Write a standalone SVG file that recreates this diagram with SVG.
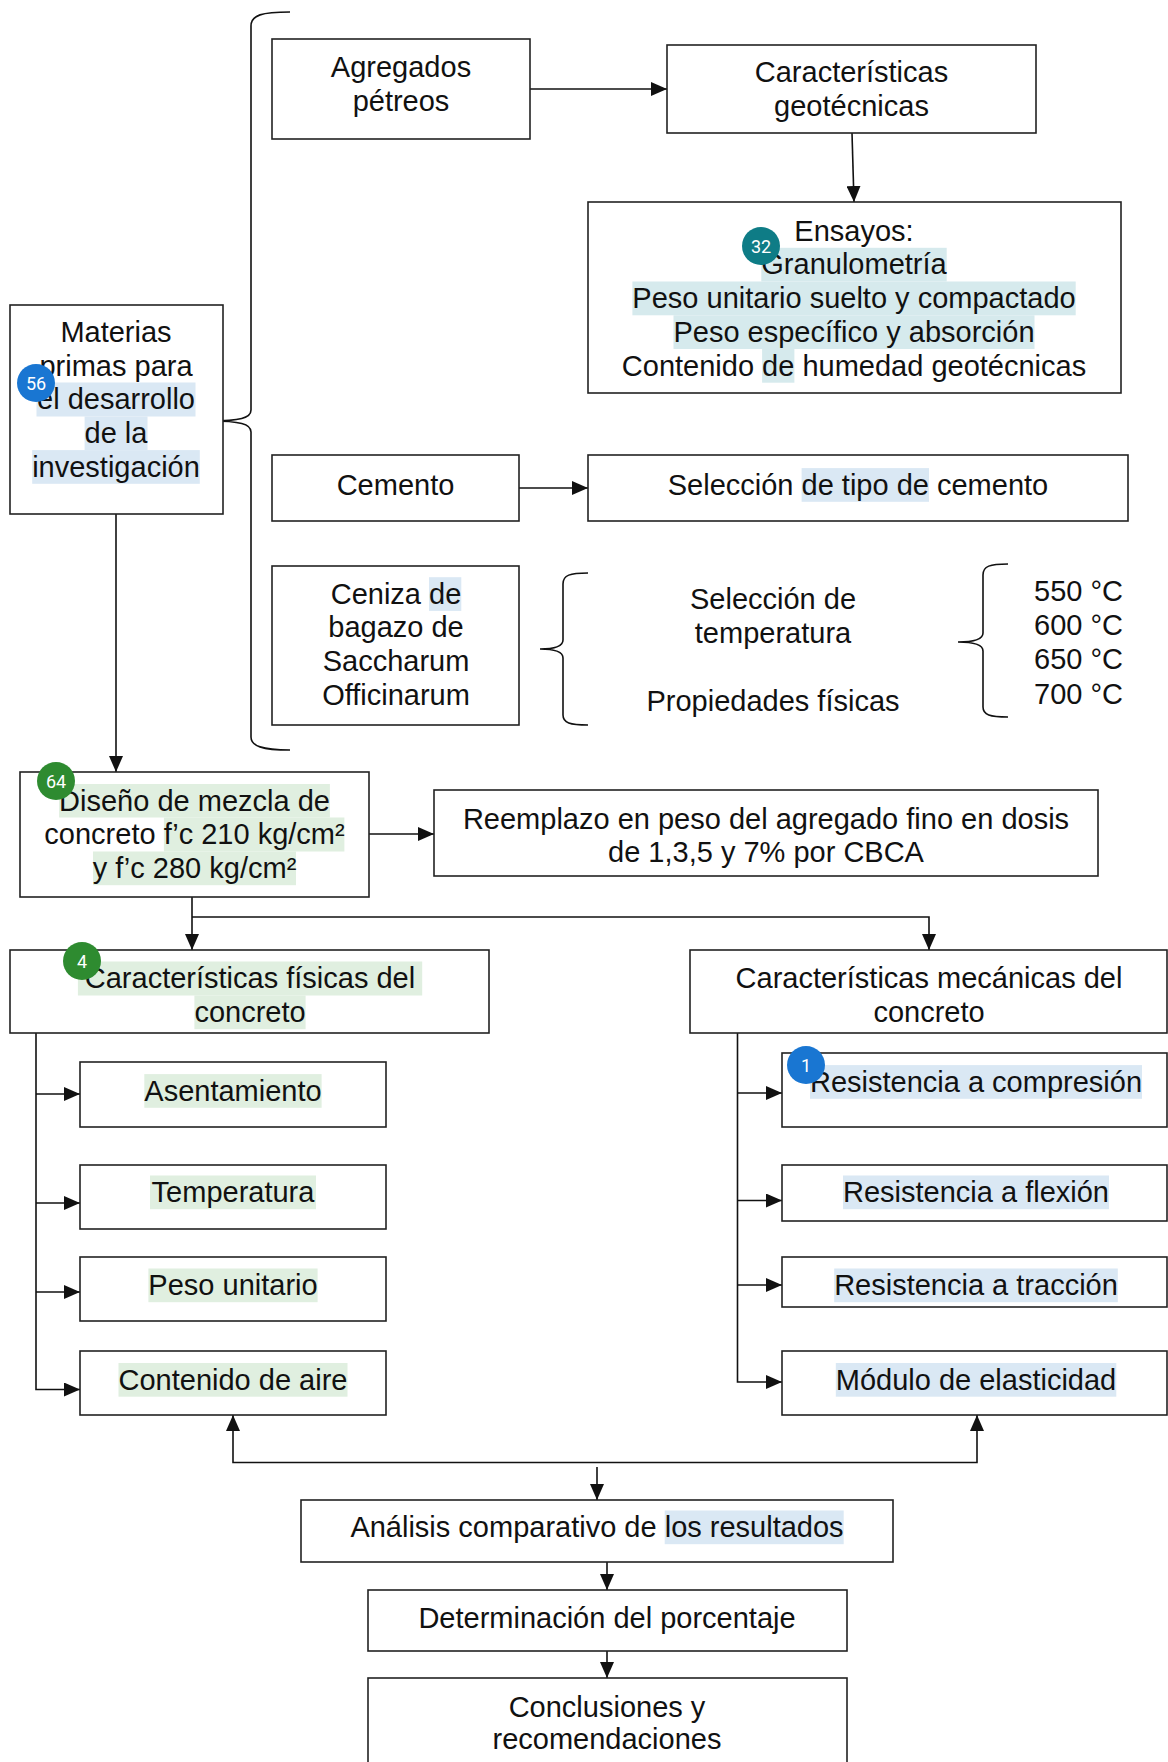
<svg xmlns="http://www.w3.org/2000/svg" width="1168" height="1762" viewBox="0 0 1168 1762">
<style>
.bg{fill:#fff}
.box{fill:#fff;stroke:#222;stroke-width:1.6}
.t{font-family:"Liberation Sans",Arial,sans-serif;font-size:29px;fill:#111;text-anchor:middle}
.ts{font-family:"Liberation Sans",Arial,sans-serif;font-size:29px;fill:#111;text-anchor:start}
.hb{fill:#dae8f4}
.hg{fill:#e0efe0}
.ht{fill:#d6eaed}
.conn{fill:none;stroke:#111;stroke-width:1.6}
.brace{fill:none;stroke:#111;stroke-width:1.6}
.bt{font-family:Roboto,"Liberation Sans",sans-serif;font-size:18px;fill:#fff;text-anchor:middle}
.bblue{fill:#1976d2}
.bteal{fill:#0e7c86}
.bgreen{fill:#2e8b30}
</style>
<defs>
<marker id="arr" viewBox="0 0 16 14" refX="16" refY="7" markerWidth="16" markerHeight="14" markerUnits="userSpaceOnUse" orient="auto">
<path d="M0,0 L16,7 L0,14 z" fill="#111"/>
</marker>
</defs>
<rect class="bg" x="0" y="0" width="1168" height="1762"/>

<g id="connectors">
<path class="conn" d="M530,89 H667" marker-end="url(#arr)"/>
<path class="conn" d="M852,133 L854,202" marker-end="url(#arr)"/>
<path class="conn" d="M519,488 H588" marker-end="url(#arr)"/>
<path class="conn" d="M116,514 V772" marker-end="url(#arr)"/>
<path class="conn" d="M369,834 H434" marker-end="url(#arr)"/>
<path class="conn" d="M192,897 V950" marker-end="url(#arr)"/>
<path class="conn" d="M192,917 H929 V950" marker-end="url(#arr)"/>
<path class="conn" d="M36,1033 V1389.5 H80" marker-end="url(#arr)"/>
<path class="conn" d="M36,1094 H80" marker-end="url(#arr)"/>
<path class="conn" d="M36,1203 H80" marker-end="url(#arr)"/>
<path class="conn" d="M36,1292 H80" marker-end="url(#arr)"/>
<path class="conn" d="M737.5,1033 V1382 H782" marker-end="url(#arr)"/>
<path class="conn" d="M737.5,1093 H782" marker-end="url(#arr)"/>
<path class="conn" d="M737.5,1200.5 H782" marker-end="url(#arr)"/>
<path class="conn" d="M737.5,1285 H782" marker-end="url(#arr)"/>
<path class="conn" d="M597,1462.5 H233 V1415" marker-end="url(#arr)"/>
<path class="conn" d="M597,1462.5 H977 V1415" marker-end="url(#arr)"/>
<path class="conn" d="M597,1467 V1500" marker-end="url(#arr)"/>
<path class="conn" d="M607,1562 V1590" marker-end="url(#arr)"/>
<path class="conn" d="M607,1651 V1678" marker-end="url(#arr)"/>
</g>

<g id="braces">
<path class="brace" d="M290,12 C262,12 251,15 251,26 L251,410 C251,418 240,421 210,421 C240,421 251,424 251,432 L251,737 C251,746 262,750 290,750"/>
<path class="brace" d="M588,573 C570,573 563,575 563,584 L563,640 C563,646 556,649 540,649 C556,649 563,652 563,658 L563,715 C563,723 570,725 588,725"/>
<path class="brace" d="M1008,564 C990,564 983,566 983,575 L983,633 C983,639 976,642 958,642 C976,642 983,645 983,651 L983,707 C983,715 990,717 1008,717"/>
</g>

<g id="n-agregados">
<rect class="box" x="272" y="39" width="258" height="100"/>
<text class="t"><tspan x="401" y="77">Agregados</tspan><tspan x="401" y="111">pétreos</tspan></text>
</g>

<g id="n-geotecnicas">
<rect class="box" x="667" y="45" width="369" height="88"/>
<text class="t"><tspan x="851.5" y="82">Características</tspan><tspan x="851.5" y="116">geotécnicas</tspan></text>
</g>

<g id="n-ensayos">
<rect class="box" x="588" y="202" width="533" height="191"/>
<rect class="ht" x="761.3" y="247.8" width="185.4" height="33.7"/>
<rect class="ht" x="632.4" y="281.5" width="443.3" height="33.8"/>
<rect class="ht" x="673.5" y="315.3" width="361" height="33.7"/>
<rect class="ht" x="762.1" y="349" width="32.3" height="33.7"/>
<text class="t"><tspan x="854" y="240.6">Ensayos:</tspan><tspan x="854" y="274.3">Granulometría</tspan><tspan x="854" y="308">Peso unitario suelto y compactado</tspan><tspan x="854" y="341.8">Peso específico y absorción</tspan><tspan x="854" y="375.5">Contenido de humedad geotécnicas</tspan></text>
<circle class="bteal" cx="761" cy="246" r="19"/>
<text class="bt" x="761" y="252.5">32</text>
</g>

<g id="n-materias">
<rect class="box" x="10" y="305" width="213" height="209"/>
<rect class="hb" x="36.5" y="382.5" width="159" height="34"/>
<rect class="hb" x="84.6" y="416.5" width="62.9" height="33.6"/>
<rect class="hb" x="32.2" y="450.1" width="167.6" height="33.7"/>
<text class="t"><tspan x="116" y="342">Materias</tspan><tspan x="116" y="375.5">primas para</tspan><tspan x="116" y="409">el desarrollo</tspan><tspan x="116" y="443">de la</tspan><tspan x="116" y="476.6">investigación</tspan></text>
<circle class="bblue" cx="36" cy="383" r="19"/>
<text class="bt" x="36" y="389.5">56</text>
</g>

<g id="n-cemento">
<rect class="box" x="272" y="455" width="247" height="66"/>
<text class="t" x="395.5" y="494.6">Cemento</text>
</g>

<g id="n-tipo-cemento">
<rect class="box" x="588" y="455" width="540" height="66"/>
<rect class="hb" x="801.6" y="468.1" width="127.4" height="33.7"/>
<text class="t" x="858" y="494.6">Selección de tipo de cemento</text>
</g>

<g id="n-ceniza">
<rect class="box" x="272" y="566" width="247" height="159"/>
<rect class="hb" x="429" y="577.2" width="32.3" height="33.7"/>
<text class="t"><tspan x="396" y="603.7">Ceniza de</tspan><tspan x="396" y="637.4">bagazo de</tspan><tspan x="396" y="671.2">Saccharum</tspan><tspan x="396" y="705">Officinarum</tspan></text>
</g>

<g id="n-temperatura-sel">
<text class="t"><tspan x="773" y="609">Selección de</tspan><tspan x="773" y="643">temperatura</tspan><tspan x="773" y="710.5">Propiedades físicas</tspan></text>
</g>

<g id="n-temperaturas">
<text class="ts"><tspan x="1034" y="601">550 °C</tspan><tspan x="1034" y="635">600 °C</tspan><tspan x="1034" y="669">650 °C</tspan><tspan x="1034" y="704">700 °C</tspan></text>
</g>

<g id="n-diseno">
<rect class="box" x="20" y="772" width="349" height="125"/>
<rect class="hg" x="59.1" y="784" width="270.8" height="33.5"/>
<rect class="hg" x="163.9" y="817.5" width="180.5" height="34"/>
<rect class="hg" x="93" y="851.5" width="203" height="33.7"/>
<text class="t"><tspan x="194.5" y="810.5">Diseño de mezcla de</tspan><tspan x="194.5" y="844">concreto f’c 210 kg/cm²</tspan><tspan x="194.5" y="878">y f’c 280 kg/cm²</tspan></text>
<circle class="bgreen" cx="56" cy="781" r="19"/>
<text class="bt" x="56" y="787.5">64</text>
</g>

<g id="n-reemplazo">
<rect class="box" x="434" y="790" width="664" height="86"/>
<text class="t"><tspan x="766" y="828.5">Reemplazo en peso del agregado fino en dosis</tspan><tspan x="766" y="862">de 1,3,5 y 7% por CBCA</tspan></text>
</g>

<g id="n-fisicas">
<rect class="box" x="10" y="950" width="479" height="83"/>
<rect class="hg" x="77.9" y="961.5" width="344.3" height="34"/>
<rect class="hg" x="194.4" y="995.5" width="111.2" height="33.7"/>
<text class="t"><tspan x="250" y="988">Características físicas del</tspan><tspan x="250" y="1022">concreto</tspan></text>
<circle class="bgreen" cx="82" cy="961" r="19"/>
<text class="bt" x="82" y="967.5">4</text>
</g>

<g id="n-mecanicas">
<rect class="box" x="690" y="950" width="477" height="83"/>
<text class="t"><tspan x="929" y="988">Características mecánicas del</tspan><tspan x="929" y="1022">concreto</tspan></text>
</g>

<g id="n-asentamiento">
<rect class="box" x="80" y="1062" width="306" height="65"/>
<rect class="hg" x="144.3" y="1074.1" width="177.3" height="33.7"/>
<text class="t" x="233" y="1100.6">Asentamiento</text>
</g>

<g id="n-temperatura">
<rect class="box" x="80" y="1165" width="306" height="64"/>
<rect class="hg" x="150" y="1175.5" width="166" height="33.7"/>
<text class="t" x="233" y="1202">Temperatura</text>
</g>

<g id="n-peso">
<rect class="box" x="80" y="1257" width="306" height="64"/>
<rect class="hg" x="148.4" y="1268.5" width="169.2" height="33.7"/>
<text class="t" x="233" y="1295">Peso unitario</text>
</g>

<g id="n-aire">
<rect class="box" x="80" y="1351" width="306" height="64"/>
<rect class="hg" x="118.5" y="1363" width="229" height="33.7"/>
<text class="t" x="233" y="1389.5">Contenido de aire</text>
</g>

<g id="n-compresion">
<rect class="box" x="782" y="1053" width="385" height="74"/>
<rect class="hb" x="810" y="1065.1" width="332" height="33.7"/>
<text class="t" x="976" y="1091.6">Resistencia a compresión</text>
<circle class="bblue" cx="806" cy="1065" r="19"/>
<text class="bt" x="806" y="1071.5">1</text>
</g>

<g id="n-flexion">
<rect class="box" x="782" y="1165" width="385" height="56"/>
<rect class="hb" x="843" y="1175.5" width="266" height="33.7"/>
<text class="t" x="976" y="1202">Resistencia a flexión</text>
</g>

<g id="n-traccion">
<rect class="box" x="782" y="1257" width="385" height="50"/>
<rect class="hb" x="834.2" y="1268.5" width="283.6" height="33.7"/>
<text class="t" x="976" y="1295">Resistencia a tracción</text>
</g>

<g id="n-modulo">
<rect class="box" x="782" y="1351" width="385" height="64"/>
<rect class="hb" x="835.8" y="1363" width="280.5" height="33.7"/>
<text class="t" x="976" y="1389.5">Módulo de elasticidad</text>
</g>

<g id="n-analisis">
<rect class="box" x="301" y="1500" width="592" height="62"/>
<rect class="hb" x="664.7" y="1510.5" width="179" height="33.7"/>
<text class="t" x="597" y="1537">Análisis comparativo de los resultados</text>
</g>

<g id="n-determinacion">
<rect class="box" x="368" y="1590" width="479" height="61"/>
<text class="t" x="607" y="1628">Determinación del porcentaje</text>
</g>

<g id="n-conclusiones">
<rect class="box" x="368" y="1678" width="479" height="100"/>
<text class="t"><tspan x="607" y="1717">Conclusiones y</tspan><tspan x="607" y="1749">recomendaciones</tspan></text>
</g>
</svg>
